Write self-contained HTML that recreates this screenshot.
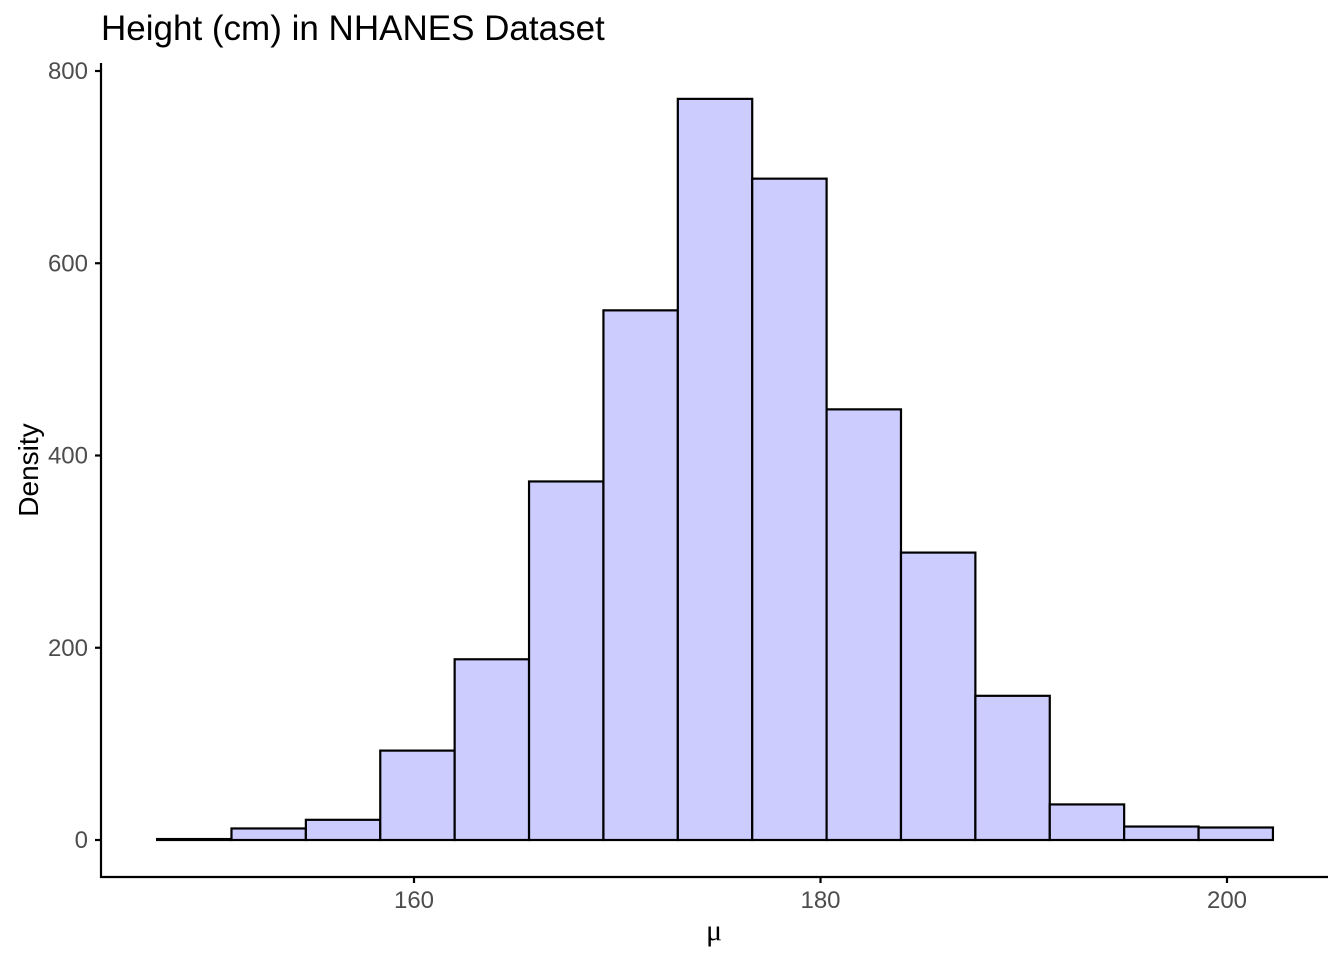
<!DOCTYPE html>
<html><head><meta charset="utf-8"><style>
html,body{margin:0;padding:0;background:#fff;}
svg{display:block;font-family:"Liberation Sans",Arial,sans-serif;}
</style></head><body>
<svg id="chart" width="1344" height="960">
<text x="101" y="40" font-size="35" fill="#000">Height (cm) in NHANES Dataset</text>
<text transform="translate(38,470) rotate(-90)" text-anchor="middle" font-size="28" fill="#000">Density</text>
<text x="714" y="940" text-anchor="middle" font-size="30" font-family="Liberation Serif,serif" fill="#000">μ</text>
<g id="bars"></g>
<g id="axes"></g>
</svg>
<script>
const binStart = 147.36;
const binWidth = 3.66;
const counts = [1, 12, 21, 93, 188, 373, 551, 771, 688, 448, 299, 150, 37, 14, 13];
const yTicks = [0, 200, 400, 600, 800];
const xTicks = [160, 180, 200];

const ns = "http://www.w3.org/2000/svg";
function xs(v){ return 414 + (v - 160) * 20.325; }
function ys(v){ return 840 - v * 0.96125; }
const bars = document.getElementById('bars');
const axes = document.getElementById('axes');
function mk(tag, attrs, parent){
  const e = document.createElementNS(ns, tag);
  for (const k in attrs) e.setAttribute(k, attrs[k]);
  parent.appendChild(e);
  return e;
}
counts.forEach((c, i) => {
  const x0 = xs(binStart + i * binWidth), x1 = xs(binStart + (i + 1) * binWidth);
  const r = mk('rect', {x: x0, y: ys(c), width: x1 - x0, height: ys(0) - ys(c), fill: '#ccccff', stroke: '#000', 'stroke-width': 2.2}, bars);
  
  
});
const ya = mk('line', {x1: 101, y1: 63, x2: 101, y2: 878, stroke: '#000', 'stroke-width': 2.2}, axes);


const xa = mk('line', {x1: 100, y1: 877, x2: 1328, y2: 877, stroke: '#000', 'stroke-width': 2.2}, axes);


yTicks.forEach(t => {
  const y = ys(t);
  mk('line', {x1: 95, y1: y, x2: 101, y2: y, stroke: '#000', 'stroke-width': 2.2}, axes);
  const tx = mk('text', {x: 88, y: y + 8, 'text-anchor': 'end', 'font-size': 24, fill: '#4d4d4d'}, axes);
  tx.textContent = t;
  
  
});
xTicks.forEach(t => {
  const x = xs(t);
  mk('line', {x1: x, y1: 877, x2: x, y2: 883, stroke: '#000', 'stroke-width': 2.2}, axes);
  const tx = mk('text', {x: x, y: 908, 'text-anchor': 'middle', 'font-size': 24, fill: '#4d4d4d'}, axes);
  tx.textContent = t;
  
  
});
</script>
</body></html>
